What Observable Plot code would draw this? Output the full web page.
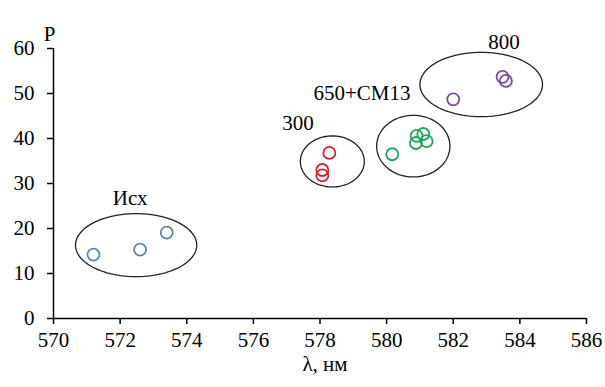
<!DOCTYPE html>
<html>
<head>
<meta charset="utf-8">
<script src="https://cdn.jsdelivr.net/npm/d3@7"></script>
<script src="https://cdn.jsdelivr.net/npm/@observablehq/plot@0.6"></script>
<style>
body { margin: 0; background: #fff; }
#chart svg, #chart svg text { font-family: "Liberation Serif", "Times New Roman", serif !important; font-size: 21px !important; }
#chart svg [aria-label="x-axis tick"] path, #chart svg [aria-label="y-axis tick"] path { stroke: #000; stroke-width: 1.5; }
</style>
</head>
<body>
<div id="chart"></div>
<script>
// Data points (λ, нм ; P)
const groupNames = ["Исх", "300", "650+СМ13", "800"];
const groupColors = ["#5a86ad", "#c8282e", "#21a35c", "#7b4a9e"];

const isxX = [571.2, 572.6, 573.4];
const isxY = [14.2, 15.3, 19.1];

const g300X = [578.28, 578.07, 578.07];
const g300Y = [36.8, 33.0, 31.8];

const g650X = [580.17, 580.9, 581.1, 580.88, 581.2];
const g650Y = [36.5, 40.6, 41.0, 39.0, 39.4];

const g800X = [582.0, 583.48, 583.58];
const g800Y = [48.7, 53.7, 52.8];

// Group ellipses: centre and half-axes in data units
const ellCX = [572.48, 578.37, 580.8, 582.84];
const ellCY = [16.3, 34.9, 38.3, 52.0];
const ellRX = [1.82, 0.96, 1.1, 1.84];
const ellRY = [7.0, 5.67, 6.85, 7.16];

// Group label anchors
const labelX = [572.3, 577.34, 579.26, 583.52];
const labelY = [26.8, 43.4, 50.1, 61.4];

const xTicks = [570, 572, 574, 576, 578, 580, 582, 584, 586];
const yTicks = [0, 10, 20, 30, 40, 50, 60];

const groupsX = [isxX, g300X, g650X, g800X];
const groupsY = [isxY, g300Y, g650Y, g800Y];

const points = [];
groupsX.forEach((xs, g) => xs.forEach((x, i) => points.push({x, y: groupsY[g][i], g: groupNames[g]})));

const ellipsePts = [];
groupNames.forEach((name, g) => {
  for (let k = 0; k <= 100; k++) {
    const t = (k / 100) * 2 * Math.PI;
    ellipsePts.push({g: name, x: ellCX[g] + ellRX[g] * Math.cos(t), y: ellCY[g] + ellRY[g] * Math.sin(t)});
  }
});

const labels = groupNames.map((name, g) => ({name, x: labelX[g], y: labelY[g]}));

const chart = Plot.plot({
  width: 605,
  height: 387,
  marginLeft: 53,
  marginRight: 19,
  marginTop: 48,
  marginBottom: 69,
  style: {fontFamily: "'Liberation Serif', 'Times New Roman', serif", fontSize: "21px", color: "#000", background: "#fff"},
  x: {domain: [570, 586], ticks: xTicks, tickSize: 6, tickPadding: 8, label: null},
  y: {domain: [0, 60], ticks: yTicks, tickSize: 6, tickPadding: 13, label: null},
  color: {domain: groupNames, range: groupColors},
  marks: [
    Plot.line(ellipsePts, {x: "x", y: "y", z: "g", stroke: "#222", strokeWidth: 1.3}),
    Plot.dot(points, {x: "x", y: "y", stroke: "g", fill: "none", r: 6, strokeWidth: 1.8}),
    Plot.text(labels, {x: "x", y: "y", text: "name", fill: "#000", fontSize: 21}),
    Plot.ruleX([570], {stroke: "#000", strokeWidth: 1.5}),
    Plot.ruleY([0], {stroke: "#000", strokeWidth: 1.5}),
    Plot.text(["Р"], {frameAnchor: "top-left", dx: -4, dy: -22, textAnchor: "middle", fill: "#000", fontSize: 21}),
    Plot.text(["λ, нм"], {frameAnchor: "bottom", dx: 5, dy: 52, fill: "#000", fontSize: 21})
  ]
});

document.getElementById("chart").appendChild(chart);
</script>
</body>
</html>
